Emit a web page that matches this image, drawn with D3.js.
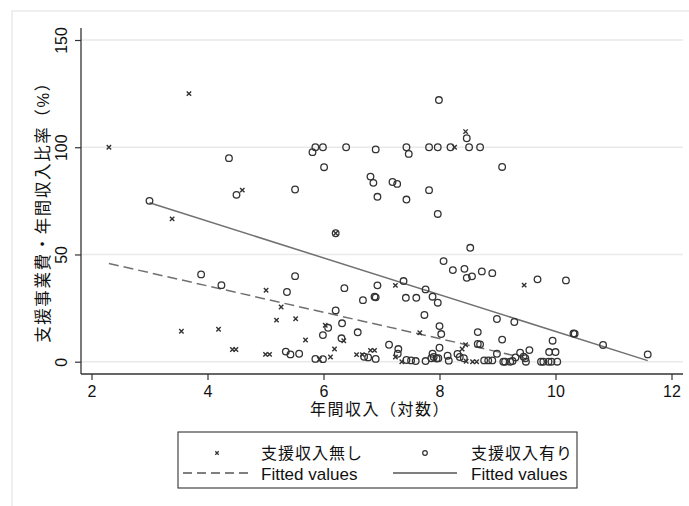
<!DOCTYPE html>
<html><head><meta charset="utf-8">
<script src="https://cdn.jsdelivr.net/npm/d3@7"></script>
<style>
body{margin:0;background:#fff;}
svg{display:block;}
text{font-family:"Liberation Sans",Arial,"Noto Sans CJK JP",sans-serif;fill:#111;}
</style></head>
<body><svg id="c" width="689" height="506"></svg>
<script>
// ---- data (年間収入（対数）, 支援事業費・年間収入比率) ----
const seriesNames = ["支援収入無し", "支援収入有り"];
const fitLabel = "Fitted values";
const xTicks = [2, 4, 6, 8, 10, 12];
const yTicks = [0, 50, 100, 150];
const xTitle = "年間収入（対数）";
const yTitle = "支援事業費・年間収入比率（%）";

const noSupport = [
 [2.30,100],[3.68,125],[3.39,66.6],[4.60,80],[8.45,107.3],[8.26,100],[6.21,59.9],[9.46,35.7],
 [7.24,35.6],[5.01,33.3],[5.27,25.5],[5.19,19.4],[5.52,20.0],[3.55,14.2],[4.19,15.1],[6.03,17.0],
 [7.66,13.5],[5.69,10.1],[6.35,9.8],[4.43,5.7],[4.49,5.7],[5.00,3.4],[5.07,3.4],[5.93,1.0],
 [6.12,2.2],[6.19,5.9],[6.57,3.3],[6.67,3.3],[6.81,5.3],[6.88,5.3],[7.24,2.2],[7.35,0],
 [8.45,7.9],[8.39,5.9],[8.46,0.2],[8.57,0],[8.64,0]
];
const withSupport = [
 [3.0,75],[4.37,94.9],[4.50,77.8],[5.51,80.3],[5.81,97.7],[5.86,100],[5.99,100],[6.01,90.7],
 [6.39,100],[6.90,99],[6.81,86.3],[6.86,83.4],[6.93,76.9],[7.99,122],[8.47,104.2],[7.43,100],
 [7.47,96.9],[7.82,100],[7.97,100],[8.19,100],[8.51,100],[8.70,100],[9.08,90.8],[7.19,83.8],
 [7.27,82.9],[7.82,80],[7.43,75.6],[7.97,68.9],[8.53,53.1],[8.07,46.9],[8.23,42.7],[8.43,43.3],
 [8.47,39.1],[8.56,39.8],[8.73,42.1],[8.91,41.3],[9.69,38.4],[10.18,37.9],[7.38,37.6],[6.93,35.6],
 [6.88,30.3],[6.90,30.0],[7.76,33.7],[7.42,29.8],[7.60,29.8],[7.88,30.3],[7.97,27.5],[7.74,21.8],
 [8.00,16.6],[8.03,12.9],[8.99,19.9],[9.29,18.5],[8.66,13.8],[10.31,13.2],[10.33,13.0],[10.82,7.8],
 [11.59,3.4],[9.08,10.3],[9.95,9.8],[8.66,8.3],[8.70,8.1],[8.00,6.5],[7.13,7.9],[7.29,5.9],
 [7.28,3.7],[7.88,3.7],[7.90,2.2],[7.98,1.6],[8.14,2.8],[8.16,0.5],[8.31,3.6],[8.35,2.2],
 [8.42,1.6],[8.77,0.6],[8.84,0.6],[8.91,0.6],[8.99,3.7],[9.10,0],[9.13,0],[9.22,0],
 [9.26,0.3],[9.31,2.0],[9.39,4.2],[9.45,2.3],[9.48,1.6],[9.49,0],[9.55,5.4],[9.75,0],
 [9.79,0],[9.88,0],[9.93,0],[10.03,0],[9.89,4.5],[10.00,4.5],[7.43,0.8],[7.51,0.6],
 [7.59,0.3],[7.76,0.3],[7.86,1.6],[7.95,1.5],[6.21,59.9],[3.89,40.7],[4.24,35.7],[5.51,39.9],
 [5.37,32.5],[6.36,34.3],[6.68,28.7],[6.21,23.9],[6.08,15.8],[6.32,17.9],[5.99,12.4],[6.31,10.9],
 [6.59,13.7],[5.35,4.7],[5.43,3.4],[5.58,3.7],[5.86,1.3],[5.99,1.2],[6.70,2.3],[6.77,2.0],[6.90,1.3]
];
// fitted lines: endpoints
const fitNoSupport = [[2.30,45.8],[9.46,1.8]];
const fitWithSupport = [[3.0,74.1],[11.59,0.5]];

// ---- drawing ----
const svg = d3.select("#c");
const x = d3.scaleLinear().domain([2,12]).range([91.5,671.5]);
const y = d3.scaleLinear().domain([0,150]).range([361.7,40]);
const plotL = 81, plotR = 683, plotT = 28, plotB = 374;
const ink = "#333";

// outer graph region border
svg.append("rect").attr("x",12).attr("y",11).attr("width",700).attr("height",520)
  .attr("fill","none").attr("stroke","#e4e4e4").attr("stroke-width",1.2);

// gridlines
svg.append("g").selectAll("line").data(yTicks).join("line")
  .attr("x1",plotL).attr("x2",plotR).attr("y1",d=>y(d)).attr("y2",d=>y(d))
  .attr("stroke","#e9e9e9").attr("stroke-width",1.6);

// y axis
const gy = svg.append("g").attr("transform",`translate(${plotL},0)`)
  .call(d3.axisLeft(y).tickValues(yTicks).tickSize(6).tickFormat(d3.format("d")));
gy.select(".domain").remove();
gy.selectAll(".tick line").attr("stroke",ink).attr("stroke-width",1.2);
gy.selectAll(".tick text").attr("x",null).attr("dy",null)
  .attr("transform","translate(-14,0) rotate(-90)").attr("text-anchor","middle")
  .style("font-size","16px").attr("fill","#111");
svg.append("line").attr("x1",plotL).attr("x2",plotL).attr("y1",plotT).attr("y2",plotB)
  .attr("stroke",ink).attr("stroke-width",1.3);

// x axis
const gx = svg.append("g").attr("transform",`translate(0,${plotB})`)
  .call(d3.axisBottom(x).tickValues(xTicks).tickSize(6).tickFormat(d3.format("d")));
gx.select(".domain").remove();
gx.selectAll(".tick line").attr("stroke",ink).attr("stroke-width",1.2);
gx.selectAll(".tick text").attr("y",22.5).attr("dy",null).style("font-size","16px").attr("fill","#111");
svg.append("line").attr("x1",plotL).attr("x2",plotR).attr("y1",plotB).attr("y2",plotB)
  .attr("stroke",ink).attr("stroke-width",1.3);

// axis titles
svg.append("text").attr("x",380).attr("y",415).attr("text-anchor","middle")
  .style("font-size","16px").style("letter-spacing","1.5px").text(xTitle);
svg.append("text").attr("transform","translate(49,208) rotate(-90)").attr("text-anchor","middle")
  .style("font-size","16.5px").style("letter-spacing","1.6px").text(yTitle);

// fitted lines
const line = d3.line().x(d=>x(d[0])).y(d=>y(d[1]));
svg.append("path").attr("d",line(fitWithSupport)).attr("fill","none")
  .attr("stroke","#707070").attr("stroke-width",1.5);
svg.append("path").attr("d",line(fitNoSupport)).attr("fill","none")
  .attr("stroke","#707070").attr("stroke-width",1.5).attr("stroke-dasharray","10,5");

// markers
const xm = (s)=>`M${-s},${-s}L${s},${s}M${-s},${s}L${s},${-s}`;
svg.append("g").selectAll("circle").data(withSupport).join("circle")
  .attr("cx",d=>x(d[0])).attr("cy",d=>y(d[1])).attr("r",3.3)
  .attr("fill","none").attr("stroke",ink).attr("stroke-width",1.3);
svg.append("g").selectAll("path").data(noSupport).join("path")
  .attr("transform",d=>`translate(${x(d[0])},${y(d[1])})`).attr("d",xm(2.2))
  .attr("stroke",ink).attr("stroke-width",1.4);

// legend
const lg = svg.append("g");
lg.append("rect").attr("x",178).attr("y",432).attr("width",399).attr("height",56)
  .attr("fill","#fff").attr("stroke",ink).attr("stroke-width",1.1);
lg.append("path").attr("transform","translate(217,453)").attr("d",xm(1.7))
  .attr("stroke",ink).attr("stroke-width",1.3);
lg.append("circle").attr("cx",425).attr("cy",453).attr("r",2.3)
  .attr("fill","none").attr("stroke",ink).attr("stroke-width",1.2);
lg.append("text").attr("x",261).attr("y",459).style("font-size","16px").style("letter-spacing","1px").text(seriesNames[0]);
lg.append("text").attr("x",471).attr("y",459).style("font-size","16px").style("letter-spacing","1px").text(seriesNames[1]);
lg.append("line").attr("x1",183).attr("x2",252).attr("y1",473).attr("y2",473)
  .attr("stroke","#555").attr("stroke-width",1.3).attr("stroke-dasharray","9,5");
lg.append("line").attr("x1",393).attr("x2",457).attr("y1",473).attr("y2",473)
  .attr("stroke","#555").attr("stroke-width",1.3);
lg.append("text").attr("x",261).attr("y",480).style("font-size","17px").text(fitLabel);
lg.append("text").attr("x",471).attr("y",480).style("font-size","17px").text(fitLabel);
</script></body></html>
